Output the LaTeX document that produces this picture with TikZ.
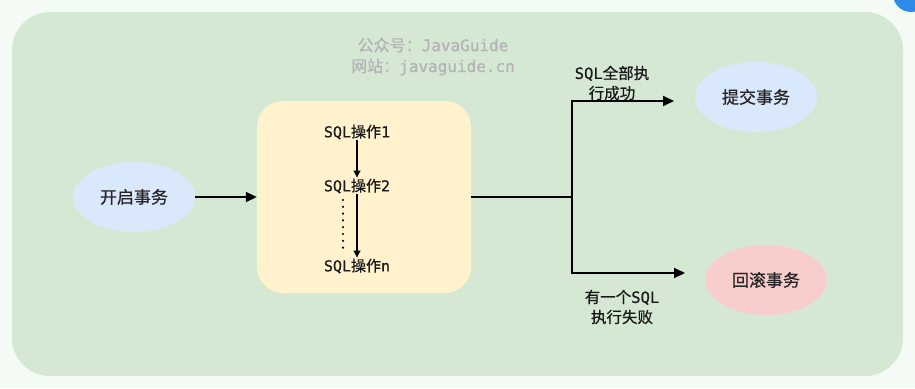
\documentclass[tikz,border=0pt]{standalone}
\usepackage{fontspec}
\usetikzlibrary{shapes.geometric,arrows.meta}
\newfontfamily\cjk[FakeBold=0.6]{Noto Sans CJK SC}
\newfontfamily\mono[FakeBold=0.6]{DejaVu Sans Mono}
\definecolor{bgout}{HTML}{F4FBF4}
\definecolor{panel}{HTML}{D5E8D4}
\definecolor{ybox}{HTML}{FFF2CC}
\definecolor{bell}{HTML}{DAE8FC}
\definecolor{rell}{HTML}{F8CECC}
\definecolor{wm}{HTML}{B3B3B3}
\definecolor{dot}{HTML}{2F8BE8}
\begin{document}
\begin{tikzpicture}[x=1pt,y=-1pt,
  ell/.style={ellipse, minimum width=122pt, minimum height=70pt, inner sep=0pt, font=\cjk\fontsize{17}{20}\selectfont, text=black!85},
  op/.style={inner sep=1pt, font=\fontsize{15}{18}\selectfont, text=black!90},
  lbl/.style={align=center, inner sep=0pt, font=\fontsize{15.5}{20}\selectfont, text=black!90},
  thick2/.style={line width=1.8pt},
  arr/.style={-{Triangle[length=11pt,width=10pt]}, line width=1.8pt},
  sarr/.style={-{Triangle[length=7pt,width=7pt]}, line width=1.1pt}]
\useasboundingbox (0,0) rectangle (915,388);
\fill[bgout] (0,0) rectangle (915,388);
\begin{scope}
\clip (0,0) rectangle (915,388);
\fill[dot] (911,-6) circle (18);
\end{scope}
\fill[panel, rounded corners=38pt] (12,12) rectangle (903,376);
\node[font=\fontsize{16}{19}\selectfont, text=wm, inner sep=0pt] (wm1) at (433,45) {{\cjk 公众号：}{\mono JavaGuide}};
\node[font=\fontsize{16}{19}\selectfont, text=wm, inner sep=0pt] (wm2) at (433,67) {{\cjk 网站：}{\mono javaguide.cn}};
\node[ell, fill=bell] (start) at (134,197) {开启事务};
\node[draw=none, fill=ybox, rounded corners=26pt, minimum width=214pt, minimum height=192pt] (box) at (364,197) {};
\node[op] (op1) at (357,132) {{\mono SQL}{\cjk 操作}{\mono 1}};
\node[op] (op2) at (357,186) {{\mono SQL}{\cjk 操作}{\mono 2}};
\node[op] (opn) at (357,266) {{\mono SQL}{\cjk 操作}{\mono n}};
\draw[sarr] (op1.south) -- (op2.north);
\draw[sarr] (op2.south) -- (opn.north);
\coordinate (d1) at (343,200);
\coordinate (d2) at (343,248);
\draw[line width=2.4pt, line cap=round, dash pattern=on 0pt off 6.8pt] (d1) -- (d2);
\draw[arr] (start.east) -- (box.west);
\node[ell, fill=bell] (commit) at (756,97) {提交事务};
\node[ell, fill=rell] (rollback) at (766,280) {回滚事务};
\coordinate (j) at (572,197);
\coordinate (jt) at (572,101);
\coordinate (jb) at (572,273);
\coordinate (et) at (674,101);
\coordinate (eb) at (685,273);
\draw[thick2] (box.east) -- (j);
\draw[arr] (j) -- (jt) -- (et);
\draw[arr] (j) -- (jb) -- (eb);
\node[lbl] (l1) at (612,83) {{\mono SQL}{\cjk 全部执}\\{\cjk 行成功}};
\node[lbl] (l2) at (622,307) {{\cjk 有一个}{\mono SQL}\\{\cjk 执行失败}};
\end{tikzpicture}
\end{document}
